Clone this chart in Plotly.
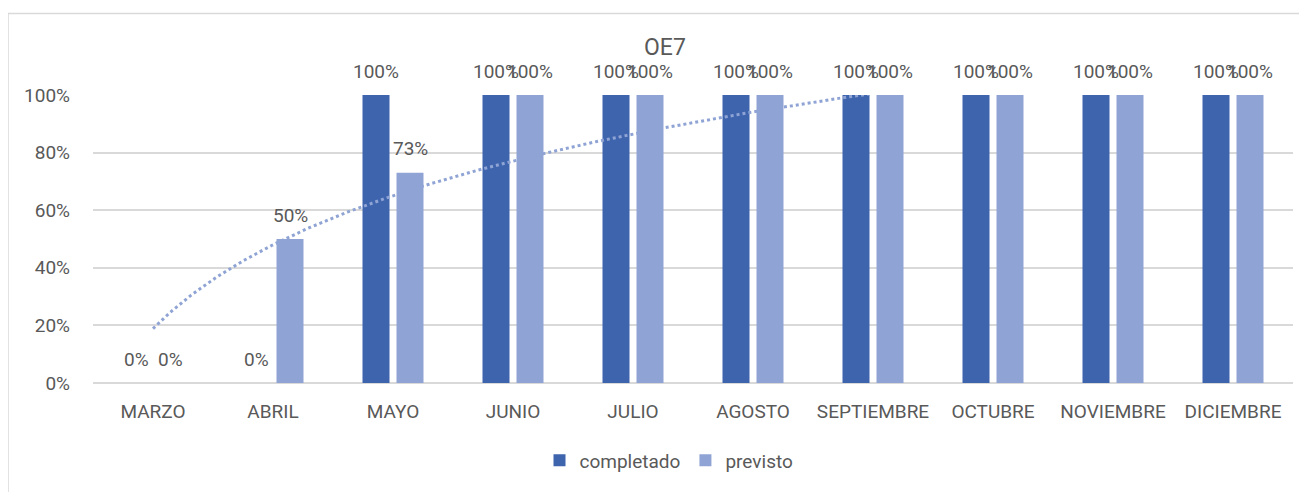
import numpy as np
import plotly.graph_objects as go

months = ["MARZO", "ABRIL", "MAYO", "JUNIO", "JULIO", "AGOSTO",
          "SEPTIEMBRE", "OCTUBRE", "NOVIEMBRE", "DICIEMBRE"]
completado = [0.0, 0.0, 1.0, 1.0, 1.0, 1.0, 1.0, 1.0, 1.0, 1.0]
previsto = [0.0, 0.5, 0.73, 1.0, 1.0, 1.0, 1.0, 1.0, 1.0, 1.0]
title_text = "OE7"

C_DARK = "#3D64AD"
C_LIGHT = "#8FA4D4"
TXT = "#595959"
FONT = "Roboto"
FS = 19

# page body adds an 8px margin; work in reference pixels minus that offset
OFF = 8
W, H = 1307 - OFF, 492 - OFF
L, T = 93 - OFF, 95 - OFF
pw, ph = 1200, 290
R, B = W - L - pw, H - T - ph


def px_x(px):
    return (px - OFF - L) / pw


def px_y(py):
    return (T + ph - (py - OFF)) / ph


x = np.arange(1, len(months) + 1)
bw = 27 / 120
off = 17 / 120

fig = go.Figure()
fig.add_trace(go.Bar(x=x, y=completado, name="completado", marker_color=C_DARK,
                     marker_line_width=0, width=bw, offset=-off - bw / 2))
fig.add_trace(go.Bar(x=x, y=previsto, name="previsto", marker_color=C_LIGHT,
                     marker_line_width=0, width=bw, offset=off - bw / 2))

# logarithmic trendline of "previsto"
b, a = np.polyfit(np.log(x), np.array(previsto), 1)
xt = np.linspace(1, len(months), 400)
yt = a + b * np.log(xt)
fig.add_trace(go.Scatter(x=xt, y=yt, mode="lines", showlegend=False,
                         line=dict(color=C_LIGHT, width=3, dash="dot"),
                         hoverinfo="skip"))

ann = []
for i, (c, p) in enumerate(zip(completado, previsto)):
    for v, dx in ((c, -off), (p, off)):
        ann.append(dict(x=x[i] + dx, y=v, xref="x", yref="y", text=f"{v*100:.0f}%",
                        showarrow=False, yanchor="middle", yshift=24,
                        font=dict(family=FONT, size=FS, color=TXT)))
ann.append(dict(x=px_x(665), y=px_y(47), xref="paper", yref="paper",
                text=title_text, showarrow=False, yanchor="middle",
                font=dict(family=FONT, size=23, color=TXT)))

fig.update_layout(
    width=W, height=H,
    margin=dict(l=L, r=R, t=T, b=B),
    paper_bgcolor="white", plot_bgcolor="white",
    barmode="overlay",
    font=dict(family=FONT, size=FS, color=TXT),
    annotations=ann,
    showlegend=True,
    legend=dict(orientation="h", x=px_x(669), xanchor="center",
                y=px_y(463), yanchor="middle",
                font=dict(family=FONT, size=FS, color=TXT),
                itemwidth=30, traceorder="normal"),
    shapes=[dict(type="rect", xref="paper", yref="paper",
                 x0=px_x(8), x1=1.2, y0=-0.6, y1=px_y(13),
                 line=dict(color="#D9D9D9", width=1.5), fillcolor="rgba(0,0,0,0)",
                 layer="below")],
)
fig.update_xaxes(range=[0.5, len(months) + 0.5], tickvals=list(x), ticktext=months,
                 showgrid=False, zeroline=False, showline=False,
                 ticks="", ticklabelstandoff=15,
                 tickfont=dict(family=FONT, size=FS, color=TXT))
fig.update_yaxes(range=[0, 1], tickvals=[0, 0.2, 0.4, 0.6, 0.8, 1.0], tickformat=".0%",
                 showgrid=True, gridcolor="#D9D9D9", gridwidth=1.5,
                 zeroline=True, zerolinecolor="#D9D9D9", zerolinewidth=1.5,
                 showline=False, ticks="", ticklabelstandoff=22,
                 tickfont=dict(family=FONT, size=FS, color=TXT))

fig.write_html("out.html")
